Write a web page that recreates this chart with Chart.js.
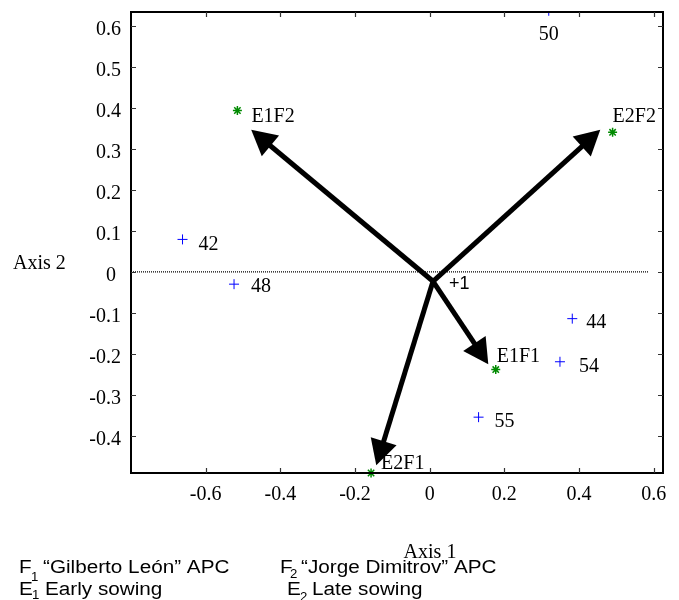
<!DOCTYPE html>
<html>
<head>
<meta charset="utf-8">
<script src="https://cdn.jsdelivr.net/npm/chart.js@4.4.0/dist/chart.umd.min.js"></script>
<style>
  body { margin: 0; background: #fff; }
  #wrap { width: 679px; height: 600px; }
</style>
</head>
<body>
<div id="wrap"><canvas id="biplot" width="679" height="600"></canvas></div>
<script>
// tick labels
const xTicks = [-0.6, -0.4, -0.2, 0, 0.2, 0.4, 0.6];
const yTicks = [-0.4, -0.3, -0.2, -0.1, 0, 0.1, 0.2, 0.3, 0.4, 0.5, 0.6];

// blue points (years)
const yearLabels = ["42", "48", "50", "44", "54", "55"];
const yearX = [-0.662, -0.524, 0.319, 0.382, 0.349, 0.131];
const yearY = [0.079, -0.030, 0.636, -0.114, -0.219, -0.354];

// green points (treatments)
const treatLabels = ["E1F2", "E2F2", "E1F1", "E2F1"];
const treatX = [-0.515, 0.490, 0.177, -0.157];
const treatY = [0.393, 0.340, -0.238, -0.490];

// arrows, all starting from point 1
const origin = [0.009, -0.023];
const arrowTipX = [-0.478, 0.457, 0.157, -0.143];
const arrowTipY = [0.346, 0.346, -0.225, -0.471];

// dotted zero line
const zeroLineX = [-0.8, 0.587];

const SERIF = "'Liberation Serif', 'Times New Roman', serif";
const SANS = "'Liberation Sans', Arial, sans-serif";

// label offsets in px: [dx, dy, align]
const labelPlace = {
  "42": [16, 5, "left"], "48": [17, 3, "left"], "50": [0, 24, "center"],
  "44": [14, 4, "left"], "54": [19, 5, "left"], "55": [16, 5, "left"],
  "E1F2": [14, 6, "left"], "E2F2": [0, -16, "left"],
  "E1F1": [1, -13, "left"], "E2F1": [10, -9, "left"]
};

const legendRows = [
  { x: 19, base: 573, letter: "F", sub: "1", subX: 31, subBase: 581, textX: 43, text: "“Gilberto León” APC" },
  { x: 280, base: 573, letter: "F", sub: "2", subX: 290, subBase: 578, textX: 301, text: "“Jorge Dimitrov” APC" },
  { x: 19, base: 595, letter: "E", sub: "1", subX: 32, subBase: 599, textX: 45, text: "Early sowing" },
  { x: 287, base: 595, letter: "E", sub: "2", subX: 300, subBase: 601, textX: 312, text: "Late sowing" }
];

function wideText(ctx, str, x, base, size, sx) {
  ctx.save();
  ctx.translate(x, base);
  ctx.scale(sx, 1);
  ctx.font = size + "px " + SANS;
  ctx.textAlign = "left";
  ctx.textBaseline = "alphabetic";
  ctx.fillText(str, 0, 0);
  ctx.restore();
}

const extras = {
  id: "extras",
  afterDatasetsDraw(chart) {
    const { ctx, chartArea: a, scales } = chart;
    const sx = scales.x, sy = scales.y;
    ctx.save();
    ctx.fillStyle = "#000";
    ctx.strokeStyle = "#000";

    // arrows
    const ox = sx.getPixelForValue(origin[0]);
    const oy = sy.getPixelForValue(origin[1]);
    arrowTipX.forEach((tx, i) => {
      const px = sx.getPixelForValue(tx);
      const py = sy.getPixelForValue(arrowTipY[i]);
      const dx = px - ox, dy = py - oy;
      const len = Math.hypot(dx, dy);
      const ux = dx / len, uy = dy / len;
      const headLen = 25, headHalf = 13.5;
      ctx.lineWidth = 5;
      ctx.beginPath();
      ctx.moveTo(ox, oy);
      ctx.lineTo(px - ux * headLen * 0.7, py - uy * headLen * 0.7);
      ctx.stroke();
      const bx = px - ux * headLen, by = py - uy * headLen;
      ctx.beginPath();
      ctx.moveTo(px, py);
      ctx.lineTo(bx - uy * headHalf, by + ux * headHalf);
      ctx.lineTo(bx + uy * headHalf, by - ux * headHalf);
      ctx.closePath();
      ctx.fill();
    });

    // frame
    ctx.lineWidth = 2;
    ctx.strokeRect(a.left, a.top, a.right - a.left, a.bottom - a.top);

    // inward ticks on all four sides
    ctx.lineWidth = 1.2;
    ctx.strokeStyle = "#333";
    ctx.beginPath();
    xTicks.forEach(v => {
      const p = Math.round(sx.getPixelForValue(v)) + 0.5;
      ctx.moveTo(p, a.top); ctx.lineTo(p, a.top + 5);
      ctx.moveTo(p, a.bottom); ctx.lineTo(p, a.bottom - 5);
    });
    yTicks.forEach(v => {
      const p = Math.round(sy.getPixelForValue(v)) + 0.5;
      ctx.moveTo(a.left, p); ctx.lineTo(a.left + 5, p);
      ctx.moveTo(a.right, p); ctx.lineTo(a.right - 5, p);
    });
    ctx.stroke();

    // point labels
    ctx.fillStyle = "#000";
    ctx.font = "20px " + SERIF;
    ctx.textBaseline = "middle";
    const putLabel = (lab, vx, vy) => {
      const pl = labelPlace[lab];
      ctx.textAlign = pl[2];
      ctx.fillText(lab, sx.getPixelForValue(vx) + pl[0], sy.getPixelForValue(vy) + pl[1]);
    };
    yearLabels.forEach((lab, i) => putLabel(lab, yearX[i], yearY[i]));
    treatLabels.forEach((lab, i) => putLabel(lab, treatX[i], treatY[i]));

    // point 1 at the arrow origin
    ctx.font = "18px " + SANS;
    ctx.textAlign = "left";
    ctx.fillText("+1", ox + 16, oy + 3);

    // axis titles
    ctx.font = "20px " + SERIF;
    ctx.textAlign = "left";
    ctx.fillText("Axis 2", 13, 264);
    ctx.textAlign = "center";
    ctx.fillText("Axis 1", 430, 553);

    // legend
    legendRows.forEach(r => {
      wideText(ctx, r.letter, r.x, r.base, 18, 1.15);
      wideText(ctx, r.sub, r.subX, r.subBase, 12, 1.1);
      wideText(ctx, r.text, r.textX, r.base, 18, 1.15);
    });
    ctx.restore();
  }
};

const ctx = document.getElementById("biplot");
const chart = new Chart(ctx, {
  type: "scatter",
  data: {
    datasets: [
      {
        label: "zero",
        data: zeroLineX.map(v => ({ x: v, y: 0 })),
        showLine: true,
        borderColor: "#000",
        borderWidth: 1.2,
        borderDash: [1, 1],
        pointRadius: 0,
        clip: false
      },
      {
        label: "years",
        data: yearX.map((v, i) => ({ x: v, y: yearY[i] })),
        pointStyle: "cross",
        pointRadius: 5,
        borderColor: "#0000ff",
        backgroundColor: "#0000ff",
        borderWidth: 1,
        clip: 0
      },
      {
        label: "treatments",
        data: treatX.map((v, i) => ({ x: v, y: treatY[i] })),
        pointStyle: "star",
        pointRadius: 4.5,
        borderColor: "#008a00",
        backgroundColor: "#008a00",
        borderWidth: 1.5,
        clip: false
      }
    ]
  },
  options: {
    responsive: false,
    animation: false,
    layout: { padding: { left: 0, top: 12, right: 16, bottom: 0 } },
    plugins: { legend: { display: false }, tooltip: { enabled: false } },
    scales: {
      x: {
        type: "linear",
        min: -0.8,
        max: 0.625,
        grid: { display: false, drawTicks: false },
        border: { display: false },
        afterBuildTicks: s => { s.ticks = xTicks.map(v => ({ value: v })); },
        afterFit: s => { s.height = 127; s.paddingLeft = 0; s.paddingRight = 0; },
        ticks: {
          color: "#000",
          font: { family: SERIF, size: 20 },
          padding: 10,
          callback: v => String(v)
        }
      },
      y: {
        type: "linear",
        min: -0.49,
        max: 0.633,
        grid: { display: false, drawTicks: false },
        border: { display: false },
        afterBuildTicks: s => { s.ticks = yTicks.map(v => ({ value: v })); },
        afterFit: s => { s.width = 131; s.paddingTop = 0; s.paddingBottom = 0; },
        ticks: {
          color: "#000",
          font: { family: SERIF, size: 20 },
          padding: 10,
          labelOffset: 4,
          callback: v => (v === 0 ? "0 " : String(Math.round(v * 10) / 10))
        }
      }
    }
  },
  plugins: [extras]
});
</script>
</body>
</html>
